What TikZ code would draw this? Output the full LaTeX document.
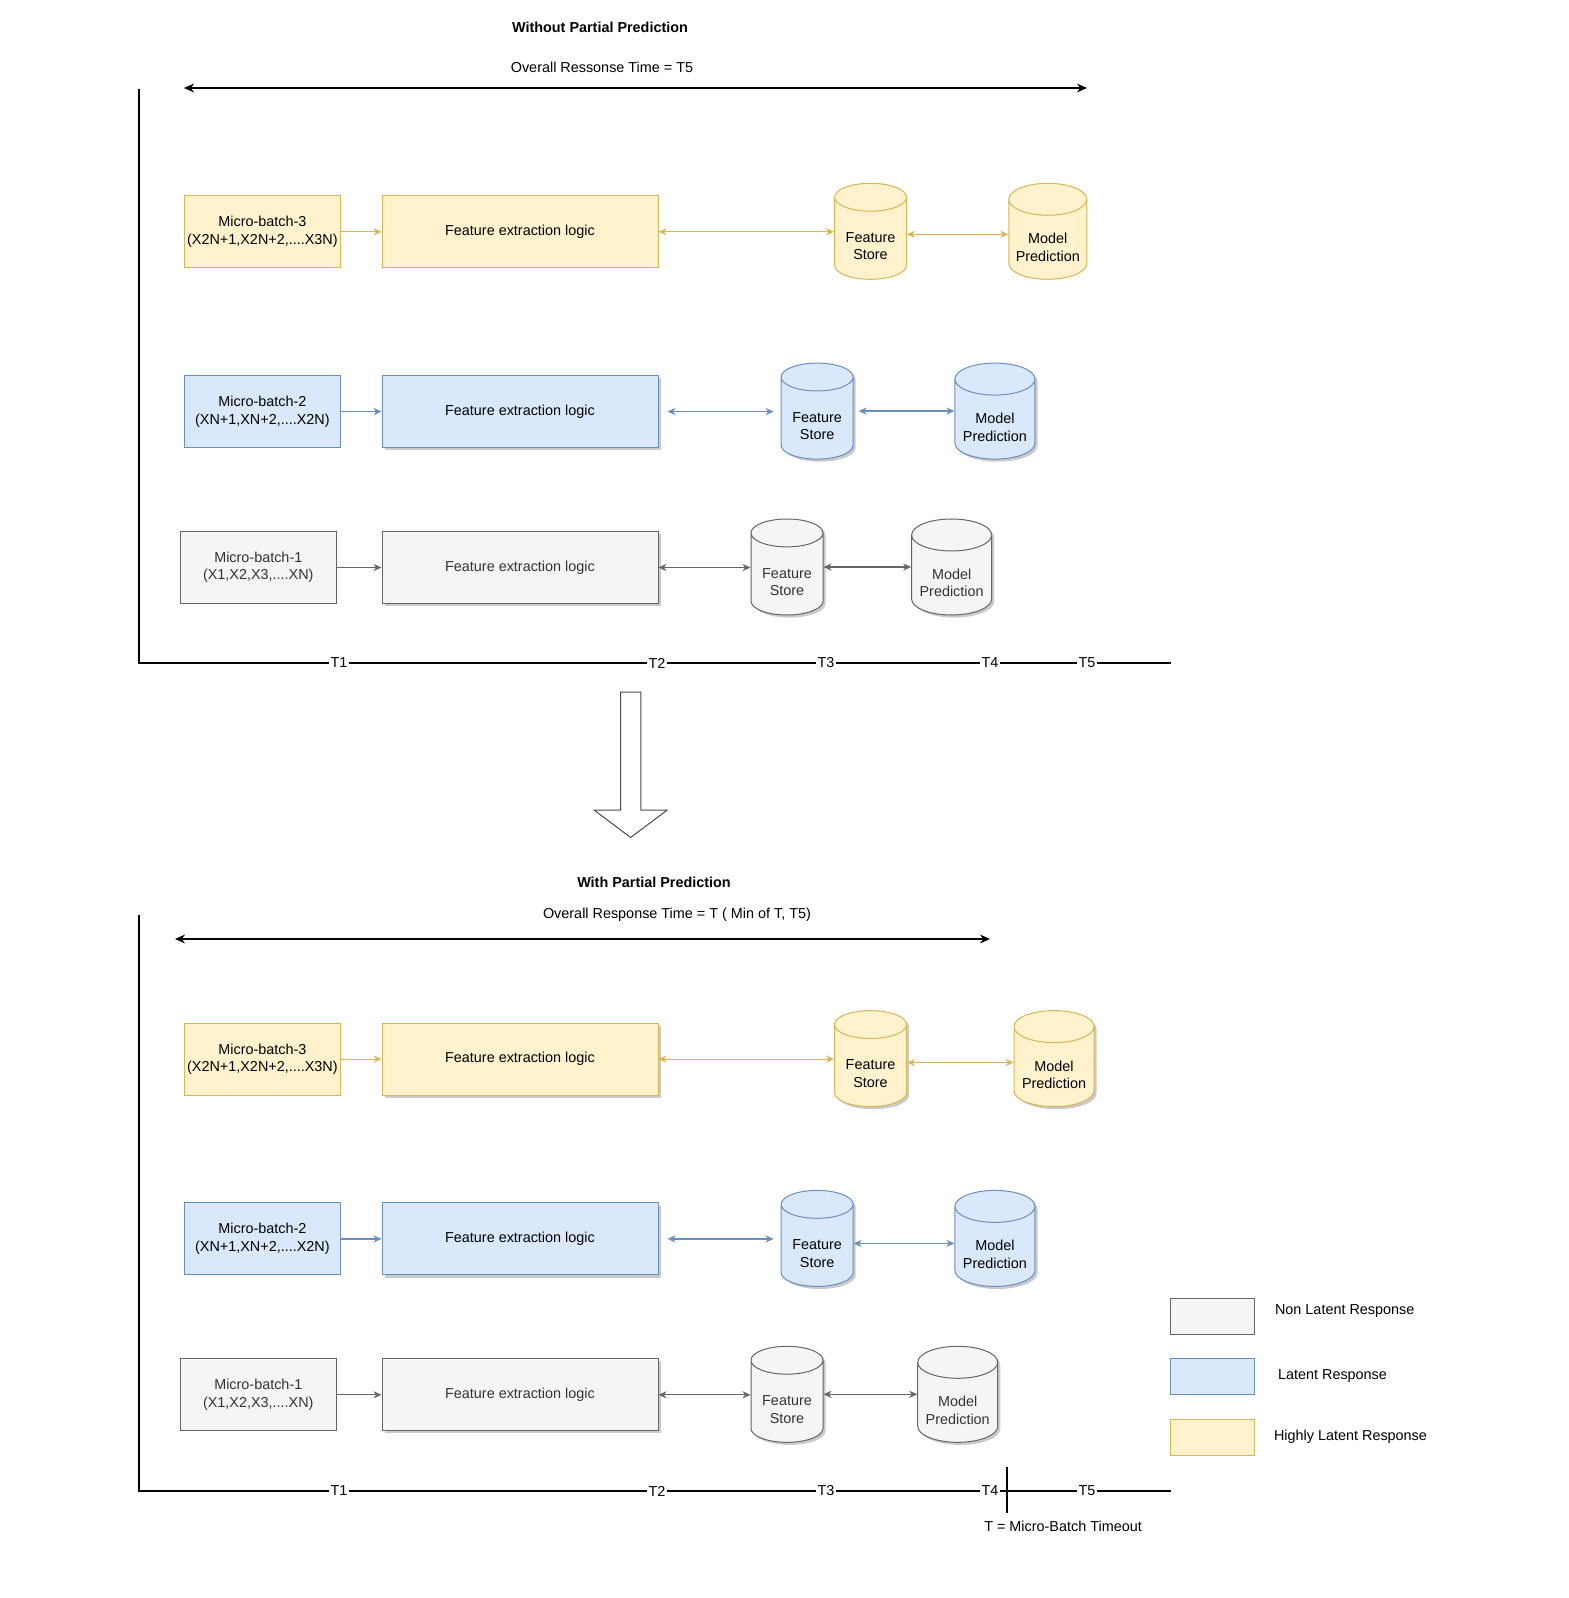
\documentclass[tikz,border=0pt]{standalone}
\usepackage{fontspec}
\setmainfont{Liberation Sans}
\usetikzlibrary{arrows.meta,shapes.geometric,shadows,calc}
\definecolor{ylwfill}{HTML}{FFF2CC}
\definecolor{ylwline}{HTML}{D6B656}
\definecolor{blufill}{HTML}{DAE8FC}
\definecolor{bluline}{HTML}{6C8EBF}
\definecolor{gryfill}{HTML}{F5F5F5}
\definecolor{gryline}{HTML}{666666}
\definecolor{grytext}{HTML}{333333}
% two lines of text, set a little low in a cylinder
\newcommand{\cyltxt}[2]{\raisebox{-3.5pt}[\height][\depth]{\begin{tabular}{@{}c@{}}#1\\#2\end{tabular}}}
\tikzset{
  every node/.style={font=\fontsize{7.2}{8.7}\selectfont},
  ttl/.style={font=\fontsize{7.2}{8.7}\selectfont\bfseries},
  ylw/.style={draw=ylwline, fill=ylwfill, line width=0.5pt},
  blu/.style={draw=bluline, fill=blufill, line width=0.5pt},
  gry/.style={draw=gryline, fill=gryfill, text=grytext, line width=0.5pt},
  batch/.style={rectangle, minimum width=78pt, minimum height=36pt, align=center, inner sep=1pt},
  logic/.style={rectangle, minimum width=138pt, minimum height=36pt},
  store/.style={cylinder, shape border rotate=90, aspect=0.52, minimum width=36pt,
    minimum height=48pt, inner sep=1pt, anchor=shape center},
  mstore/.style={store, aspect=0.47, minimum width=40pt},
  shade/.style={drop shadow={shadow xshift=1.3pt, shadow yshift=-1.3pt, fill=black!35, opacity=0.6}},
  flow/.style={-{Stealth[length=4pt,width=3.6pt]}, line width=0.6pt},
  both/.style={{Stealth[length=4pt,width=3.6pt]}-{Stealth[length=4pt,width=3.6pt]}, line width=0.6pt},
  span/.style={{Stealth[length=5pt,width=4.4pt]}-{Stealth[length=5pt,width=4.4pt]}, line width=0.7pt},
  tick/.style={fill=white, inner sep=1pt},
  key/.style={rectangle, minimum width=42pt, minimum height=18pt},
}
\begin{document}
\begin{tikzpicture}[x=0.5pt, y=-0.5pt]
    \useasboundingbox (0,0) rectangle (1568,1598);

    % without partial prediction
    \node[ttl] (ttlA) at (600,27) {Without Partial Prediction};
    \node (rtA) at (602,67) {Overall Ressonse Time = T5};
    \coordinate (spA1) at (184,88);
    \coordinate (spA2) at (1087,88);
    \draw[span] (spA1) -- (spA2);

    \coordinate (topA) at (139,89);
    \coordinate (oA) at (139,663);
    \coordinate (endA) at (1171,663);
    \draw[line width=0.6pt] (topA) -- (oA) -- (endA);
    \foreach \x [count=\i] in {339,657,826,990,1087}
        \node[tick] (tA\i) at (\x,663) {T\i};

    \node[batch, ylw] (mb3) at (262.4,231.8) {Micro-batch-3\\(X2N+1,X2N+2,....X3N)};
    \node[logic, ylw] (fe3) at (520,231.8) {Feature extraction logic};
    \node[store, ylw] (fs3) at (870.5,231.3) {\cyltxt{Feature}{Store}};
    \node[mstore, ylw, minimum width=39pt] (mp3) at (1047.8,231.3) {\cyltxt{Model}{Prediction}};
    \draw[flow, ylwline] (mb3) -- (fe3);
    \draw[both, ylwline] (fe3.east) -- (fe3.east -| fs3.west);
    \draw[both, ylwline] ($(fs3.east |- fs3.shape center)+(0,3)$) -- ($(mp3.west |- fs3.shape center)+(0,3)$);

    \node[batch, blu] (mb2) at (262.4,411.6) {Micro-batch-2\\(XN+1,XN+2,....X2N)};
    \node[logic, blu, shade] (fe2) at (520,411.6) {Feature extraction logic};
    \node[store, blu, shade] (fs2) at (817.1,411.1) {\cyltxt{Feature}{Store}};
    \node[mstore, blu, shade] (mp2) at (994.9,411.1) {\cyltxt{Model}{Prediction}};
    \draw[flow, bluline] (mb2) -- (fe2);
    \draw[both, bluline, shorten <=4.5pt, shorten >=3.5pt] (fe2.east) -- (fe2.east -| fs2.west);
    \draw[both, bluline, shorten <=2.5pt] (fs2.east |- fs2.shape center) -- (mp2.west |- fs2.shape center);

    \node[batch, gry] (mb1) at (258.3,567.5) {Micro-batch-1\\(X1,X2,X3,....XN)};
    \node[logic, gry, shade] (fe1) at (520,567.5) {Feature extraction logic};
    \node[store, gry, shade] (fs1) at (787,567) {\cyltxt{Feature}{Store}};
    \node[mstore, gry, shade] (mp1) at (951.6,567) {\cyltxt{Model}{Prediction}};
    \draw[flow, gryline] (mb1) -- (fe1);
    \draw[both, gryline] (fe1.east) -- (fe1.east -| fs1.west);
    \draw[both, gryline] (fs1.east |- fs1.shape center) -- (mp1.west |- fs1.shape center);

    % hollow arrow between the two cases
    \draw[draw=black!70, line width=0.5pt] (620.5,692) -- (640.8,692) -- (640.8,810)
        -- (667.3,810) -- (630.6,837.5) -- (594,810) -- (620.5,810) -- cycle;

    % with partial prediction
    \node[ttl] (ttlB) at (654,882) {With Partial Prediction};
    \node (rtB) at (677,915) {Overall Response Time = T ( Min of T, T5)};
    \coordinate (spB1) at (175,939);
    \coordinate (spB2) at (990,939);
    \draw[span] (spB1) -- (spB2);

    \coordinate (topB) at (139,915);
    \coordinate (oB) at (139,1491);
    \coordinate (endB) at (1171,1491);
    \draw[line width=0.6pt] (topB) -- (oB) -- (endB);
    \foreach \x [count=\i] in {339,657,826,990,1087}
        \node[tick] (tB\i) at (\x,1491) {T\i};
    \coordinate (toA) at (1007,1467);
    \coordinate (toB) at (1007,1513);
    \draw[line width=0.6pt] (toA) -- (toB);
    \node (tout) at (1063,1526) {T = Micro-Batch Timeout};

    \node[batch, ylw] (mb3p) at (262.4,1059.1) {Micro-batch-3\\(X2N+1,X2N+2,....X3N)};
    \node[logic, ylw, shade] (fe3p) at (520,1059.1) {Feature extraction logic};
    \node[store, ylw, shade] (fs3p) at (870.5,1058.6) {\cyltxt{Feature}{Store}};
    \node[mstore, ylw, shade] (mp3p) at (1054,1058.6) {\cyltxt{Model}{Prediction}};
    \draw[flow, ylwline] (mb3p) -- (fe3p);
    \draw[both, ylwline] (fe3p.east) -- (fe3p.east -| fs3p.west);
    \draw[both, ylwline] ($(fs3p.east |- fs3p.shape center)+(0,4)$) -- ($(mp3p.west |- fs3p.shape center)+(0,4)$);

    \node[batch, blu] (mb2p) at (262.4,1238.9) {Micro-batch-2\\(XN+1,XN+2,....X2N)};
    \node[logic, blu, shade] (fe2p) at (520,1238.9) {Feature extraction logic};
    \node[store, blu, shade] (fs2p) at (817.1,1238.4) {\cyltxt{Feature}{Store}};
    \node[mstore, blu, shade] (mp2p) at (994.9,1238.4) {\cyltxt{Model}{Prediction}};
    \draw[flow, bluline] (mb2p) -- (fe2p);
    \draw[both, bluline, shorten <=4.5pt, shorten >=3.5pt] (fe2p.east) -- (fe2p.east -| fs2p.west);
    \draw[both, bluline] ($(fs2p.east |- fs2p.shape center)+(0,5)$) -- ($(mp2p.west |- fs2p.shape center)+(0,5)$);

    \node[batch, gry] (mb1p) at (258.3,1394.8) {Micro-batch-1\\(X1,X2,X3,....XN)};
    \node[logic, gry, shade] (fe1p) at (520,1394.8) {Feature extraction logic};
    \node[store, gry, shade] (fs1p) at (787,1394.3) {\cyltxt{Feature}{Store}};
    \node[mstore, gry, shade] (mp1p) at (957.7,1394.3) {\cyltxt{Model}{Prediction}};
    \draw[flow, gryline] (mb1p) -- (fe1p);
    \draw[both, gryline] (fe1p.east) -- (fe1p.east -| fs1p.west);
    \draw[both, gryline] (fs1p.east |- fs1p.shape center) -- (mp1p.west |- fs1p.shape center);

    % legend
    \node[key, gry] (kgry) at (1212.4,1316.9) {};
    \node[key, blu] (kblu) at (1212.4,1376.9) {};
    \node[key, ylw] (kylw) at (1212.4,1437) {};
    \node[anchor=west] (lgry) at (1268,1311) {Non Latent Response};
    \node[anchor=west] (lblu) at (1271,1376.4) {Latent Response};
    \node[anchor=west] (lylw) at (1267,1436.6) {Highly Latent Response};
\end{tikzpicture}
\end{document}
